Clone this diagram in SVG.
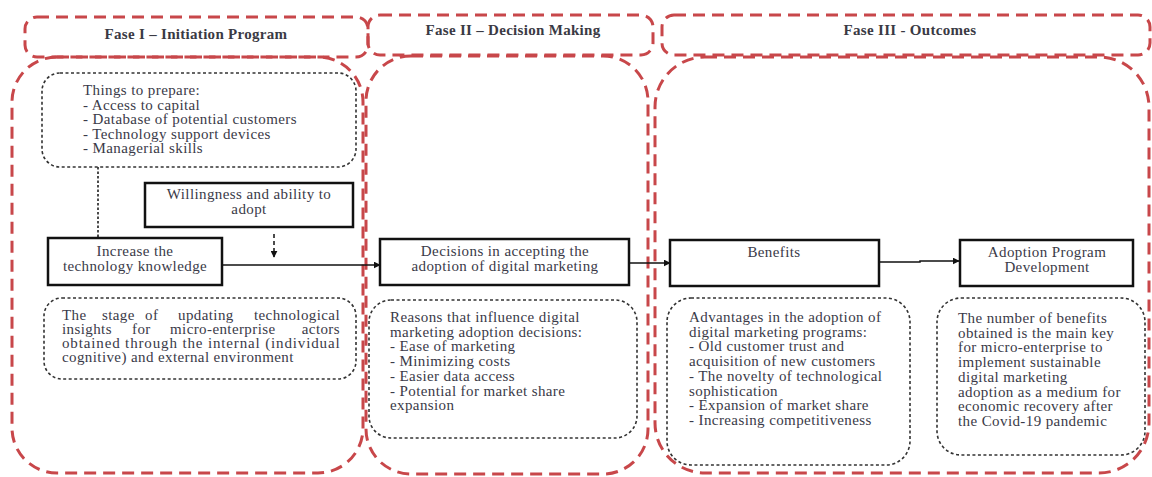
<svg xmlns="http://www.w3.org/2000/svg" width="1152" height="477" viewBox="0 0 1152 477">
<style>
.phase{fill:none;stroke:#c8474a;stroke-width:3;stroke-dasharray:12 7}
.note{fill:none;stroke:#333;stroke-width:1.6;stroke-dasharray:3 2.5}
.box{fill:#fff;stroke:#111;stroke-width:2.5}
.t{font-family:"Liberation Serif",serif;font-size:15px;letter-spacing:0.4px;fill:#3a3a48}
.c{text-anchor:middle}
.h{font-family:"Liberation Serif",serif;font-size:15px;letter-spacing:0.3px;font-weight:bold;fill:#3a3a44;text-anchor:middle}
.ln{fill:none;stroke:#111;stroke-width:1.5}
</style>
<defs>
<marker id="ar" viewBox="0 0 10 10" refX="9" refY="5" markerWidth="7" markerHeight="7" orient="auto" markerUnits="userSpaceOnUse">
<path d="M0,0 L10,5 L0,10 z" fill="#111"/>
</marker>
</defs>
<rect width="1152" height="477" fill="#fff"/>

<g id="phases">
<rect class="phase" x="12" y="57" width="351" height="416" rx="45"/>
<rect class="phase" x="366" y="56" width="282" height="418" rx="45"/>
<rect class="phase" x="655" y="57" width="494" height="416" rx="50"/>
<rect class="phase" x="25" y="17" width="343" height="40" rx="12"/>
<rect class="phase" x="368" y="15" width="285" height="40" rx="12"/>
<rect class="phase" x="662" y="15" width="488" height="40" rx="12"/>
<text class="h" x="196" y="39">Fase I – Initiation Program</text>
<text class="h" x="513" y="35">Fase II – Decision Making</text>
<text class="h" x="910" y="35">Fase III - Outcomes</text>
</g>

<g id="connectors">
<line x1="98" y1="167" x2="98" y2="238" class="ln" stroke-dasharray="2.5 2"/>
<line x1="274" y1="234" x2="274" y2="257" class="ln" stroke-dasharray="4 3" marker-end="url(#ar)"/>
<line x1="222" y1="265" x2="380" y2="265" class="ln" marker-end="url(#ar)"/>
<line x1="629" y1="263" x2="670" y2="263" class="ln" marker-end="url(#ar)"/>
<polyline points="879,262 920,262 920,261 959,261" class="ln" marker-end="url(#ar)"/>
</g>

<g id="prepare">
<rect class="note" x="42" y="73" width="314" height="94" rx="18"/>
<text class="t" x="83" y="95">Things to prepare:
<tspan x="83" dy="14.5">- Access to capital</tspan>
<tspan x="83" dy="14.5">- Database of potential customers</tspan>
<tspan x="83" dy="14.5">- Technology support devices</tspan>
<tspan x="83" dy="14.5">- Managerial skills</tspan></text>
</g>

<g id="willingness">
<rect class="box" x="145" y="183" width="208" height="44"/>
<text class="t c" x="249" y="199">Willingness and ability to<tspan x="249" dy="15">adopt</tspan></text>
</g>

<g id="increase">
<rect class="box" x="48" y="238" width="174" height="47"/>
<text class="t c" x="135" y="256">Increase the<tspan x="135" dy="15">technology knowledge</tspan></text>
</g>

<g id="stage">
<rect class="note" x="44" y="298" width="312" height="81" rx="18"/>
<text class="t" y="320"><tspan x="62">The</tspan><tspan x="102">stage</tspan><tspan x="145">of</tspan><tspan x="178">updating</tspan><tspan x="340" text-anchor="end">technological</tspan></text>
<text class="t" y="334"><tspan x="62">insights</tspan><tspan x="132">for</tspan><tspan x="170">micro-enterprise</tspan><tspan x="340" text-anchor="end">actors</tspan></text>
<text class="t" y="348" textLength="278" lengthAdjust="spacing" x="62">obtained through the internal (individual</text>
<text class="t" x="62" y="362">cognitive) and external environment</text>
</g>

<g id="decisions">
<rect class="box" x="380" y="239" width="249" height="46"/>
<text class="t c" x="505" y="256">Decisions in accepting the<tspan x="505" dy="15">adoption of digital marketing</tspan></text>
</g>

<g id="reasons">
<rect class="note" x="369" y="300" width="268" height="138" rx="22"/>
<text class="t" x="390" y="322">Reasons that influence digital
<tspan x="390" dy="14.7">marketing adoption decisions:</tspan>
<tspan x="390" dy="14.7">- Ease of marketing</tspan>
<tspan x="390" dy="14.7">- Minimizing costs</tspan>
<tspan x="390" dy="14.7">- Easier data access</tspan>
<tspan x="390" dy="14.7">- Potential for market share</tspan>
<tspan x="390" dy="14.7">expansion</tspan></text>
</g>

<g id="benefits">
<rect class="box" x="670" y="240" width="209" height="46"/>
<text class="t c" x="774" y="257">Benefits</text>
</g>

<g id="advantages">
<rect class="note" x="667" y="298" width="243" height="167" rx="24"/>
<text class="t" x="689" y="322">Advantages in the adoption of
<tspan x="689" dy="14.7">digital marketing programs:</tspan>
<tspan x="689" dy="14.7">- Old customer trust and</tspan>
<tspan x="689" dy="14.7">acquisition of new customers</tspan>
<tspan x="689" dy="14.7">- The novelty of technological</tspan>
<tspan x="689" dy="14.7">sophistication</tspan>
<tspan x="689" dy="14.7">- Expansion of market share</tspan>
<tspan x="689" dy="14.7">- Increasing competitiveness</tspan></text>
</g>

<g id="development">
<rect class="box" x="960" y="240" width="173" height="46"/>
<text class="t c" x="1047" y="257">Adoption Program<tspan x="1047" dy="15">Development</tspan></text>
</g>

<g id="number">
<rect class="note" x="937" y="298" width="208" height="157" rx="24"/>
<text class="t" x="958" y="323">The number of benefits
<tspan x="958" dy="14.7">obtained is the main key</tspan>
<tspan x="958" dy="14.7">for micro-enterprise to</tspan>
<tspan x="958" dy="14.7">implement sustainable</tspan>
<tspan x="958" dy="14.7">digital marketing</tspan>
<tspan x="958" dy="14.7">adoption as a medium for</tspan>
<tspan x="958" dy="14.7">economic recovery after</tspan>
<tspan x="958" dy="14.7">the Covid-19 pandemic</tspan></text>
</g>
</svg>
